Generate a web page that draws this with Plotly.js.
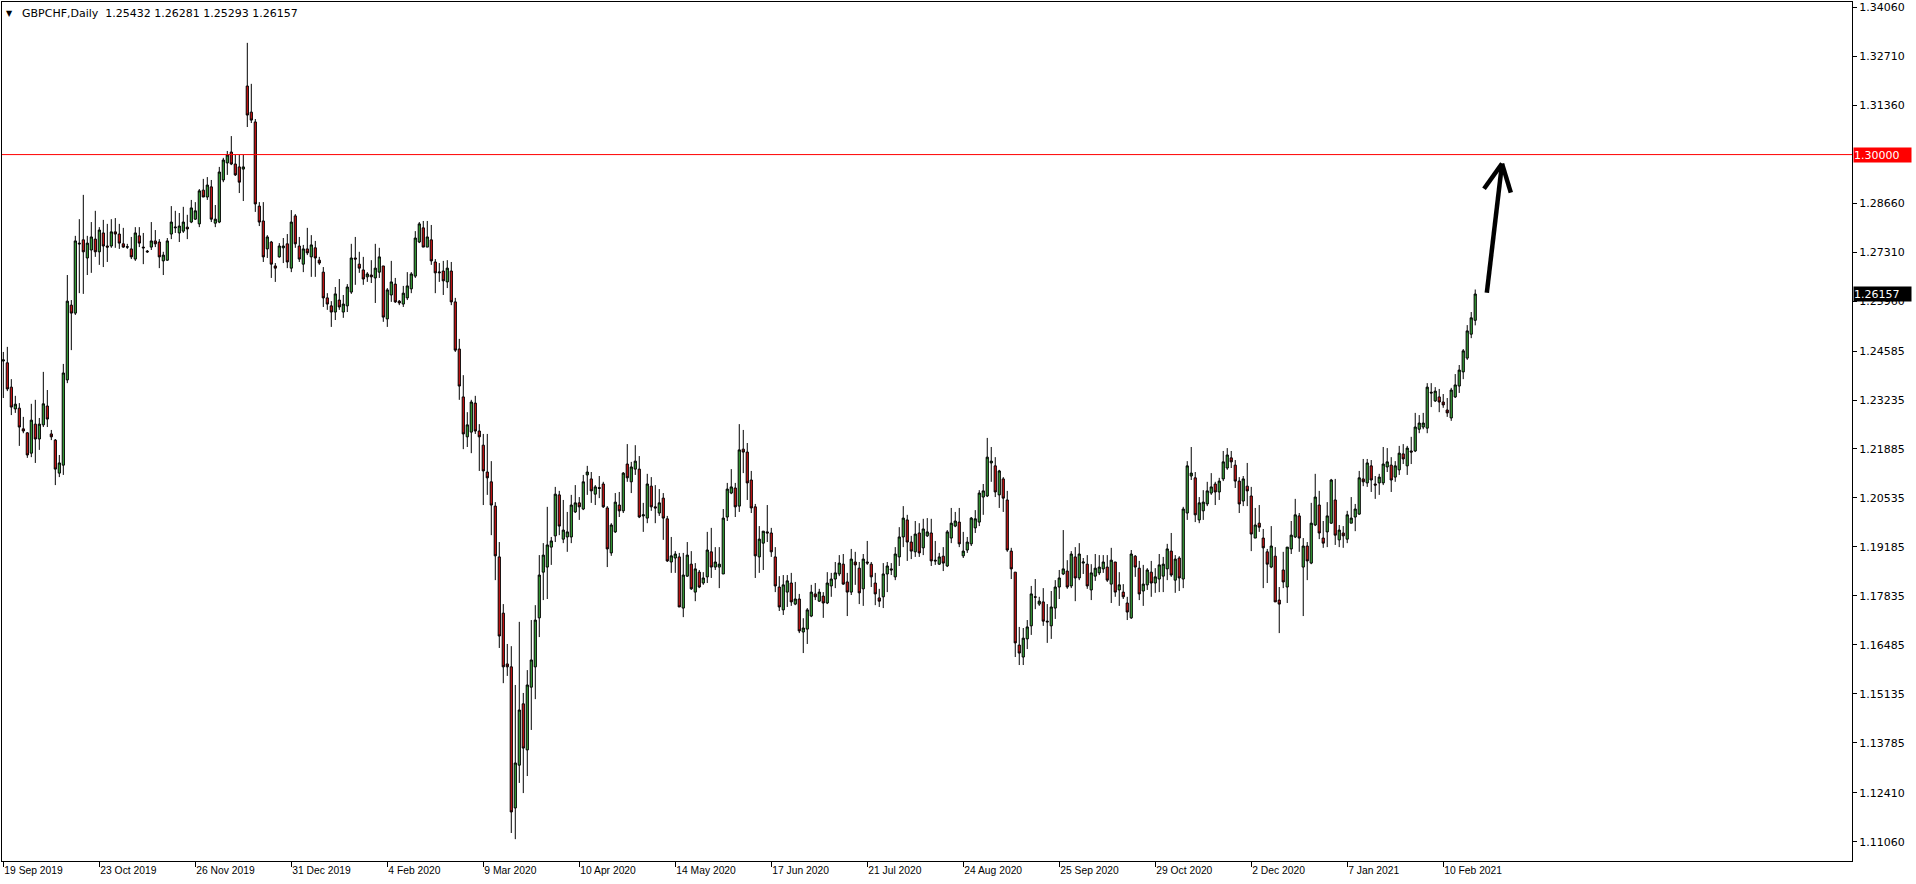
<!DOCTYPE html>
<html>
<head>
<meta charset="utf-8">
<script src="https://cdn.plot.ly/plotly-3.0.1.min.js"></script>
<style>
  html, body { margin: 0; padding: 0; background: #ffffff; }
  #chart { width: 1916px; height: 884px; }
</style>
</head>
<body>
<div id="chart"></div>
<script>
// GBPCHF Daily, 19 Sep 2019 – 22 Feb 2021 (one value per trading day)
const open = [
1.2431,1.2426,1.2359,1.2299,1.2301,1.2244,1.2233,1.2177,1.2257,1.2216,1.2255,1.2307,
1.2230,1.2213,1.2122,1.2144,1.2379,1.2585,1.2563,1.2756,1.2765,1.2715,1.2737,1.2767,
1.2732,1.2784,1.2748,1.2748,1.2787,1.2781,1.2754,1.2746,1.2740,1.2712,1.2776,1.2745,
1.2734,1.2745,1.2762,1.2759,1.2707,1.2709,1.2781,1.2798,1.2784,1.2789,1.2800,1.2814,
1.2822,1.2809,1.2902,1.2883,1.2911,1.2811,1.2814,1.2930,1.2977,1.3007,1.2974,1.2966,
1.2960,1.3189,1.3117,1.3090,1.2858,1.2817,1.2740,1.2759,1.2693,1.2718,1.2743,1.2754,
1.2687,1.2831,1.2748,1.2698,1.2740,1.2718,1.2743,1.2709,1.2676,1.2605,1.2583,1.2566,
1.2599,1.2566,1.2583,1.2621,1.2715,1.2698,1.2682,1.2663,1.2668,1.2660,1.2676,1.2693,
1.2547,1.2613,1.2643,1.2596,1.2588,1.2605,1.2630,1.2665,1.2759,1.2798,1.2745,1.2765,
1.2704,1.2674,1.2679,1.2649,1.2679,1.2594,1.2464,1.2332,1.2222,1.2235,1.2315,1.2238,
1.2199,1.2125,1.2098,1.2031,1.1891,1.1736,1.1596,1.1588,1.1199,1.1317,1.1486,1.1359,
1.1532,1.1588,1.1723,1.1849,1.1863,1.1918,1.1949,1.2062,1.1940,1.1946,1.1946,1.2015,
1.2040,1.2023,1.2117,1.2106,1.2064,1.2082,1.2092,1.2026,1.1902,1.1960,1.2034,1.2018,
1.2147,1.2098,1.2133,1.2133,1.2004,1.1998,1.2086,1.2029,1.2012,1.2053,1.1996,1.1877,
1.1888,1.1891,1.1750,1.1838,1.1871,1.1794,1.1849,1.1819,1.1836,1.1905,1.1863,1.1863,
1.1844,1.2001,1.2067,1.2081,1.2031,1.2188,1.2180,1.2103,1.2029,1.1891,1.1929,1.1960,
1.1957,1.1891,1.1808,1.1745,1.1794,1.1819,1.1761,1.1775,1.1684,1.1692,1.1728,1.1789,
1.1769,1.1783,1.1764,1.1811,1.1830,1.1844,1.1871,1.1822,1.1794,1.1877,1.1860,1.1803,
1.1877,1.1871,1.1819,1.1778,1.1781,1.1844,1.1858,1.1836,1.1891,1.1946,1.1993,1.1932,
1.1905,1.1957,1.1916,1.1949,1.1957,1.1882,1.1871,1.1893,1.1866,1.1943,1.1976,1.1987,
1.1894,1.1910,1.1927,1.1971,1.1987,1.2056,1.2059,1.2150,1.2142,1.2062,1.2106,1.2048,
1.1907,1.1849,1.1648,1.1615,1.1665,1.1701,1.1781,1.1761,1.1767,1.1714,1.1701,1.1750,
1.1808,1.1844,1.1852,1.1811,1.1891,1.1833,1.1874,1.1871,1.1800,1.1838,1.1847,1.1858,
1.1863,1.1816,1.1877,1.1800,1.1794,1.1764,1.1723,1.1893,1.1860,1.1797,1.1814,1.1849,
1.1819,1.1830,1.1838,1.1858,1.1907,1.1827,1.1888,1.1830,1.2012,1.2114,1.2109,1.1993,
1.2018,1.2037,1.2067,1.2092,1.2070,1.2106,1.2136,1.2164,1.2144,1.2100,1.2045,1.2086,
1.2059,1.1943,1.1984,1.1943,1.1905,1.1863,1.1893,1.1772,1.1855,1.1808,1.1913,1.1946,
1.2004,1.1863,1.1921,1.1874,1.1979,1.2034,1.1943,1.1960,1.1984,1.2048,1.1938,1.1957,
1.1940,1.1984,1.2001,1.2009,1.2106,1.2095,1.2142,1.2092,1.2095,1.2095,1.2139,1.2144,
1.2111,1.2131,1.2175,1.2142,1.2183,1.2183,1.2243,1.2249,1.2246,1.2345,1.2321,1.2332,
1.2318,1.2296,1.2274,1.2332,1.2362,1.2401,1.2439,1.2505,1.25432
];
const high = [
1.2456,1.2470,1.2381,1.2335,1.2315,1.2277,1.2235,1.2313,1.2324,1.2274,1.2401,1.2351,
1.2241,1.2216,1.2172,1.2423,1.2668,1.2599,1.2776,1.2822,1.2889,1.2776,1.2814,1.2845,
1.2800,1.2820,1.2809,1.2822,1.2825,1.2809,1.2798,1.2754,1.2773,1.2800,1.2800,1.2784,
1.2737,1.2814,1.2792,1.2767,1.2732,1.2770,1.2858,1.2845,1.2839,1.2856,1.2834,1.2875,
1.2869,1.2905,1.2933,1.2938,1.2930,1.2861,1.2966,1.2991,1.3010,1.3051,1.2999,1.2999,
1.2999,1.3308,1.3195,1.3098,1.2869,1.2869,1.2778,1.2762,1.2701,1.2756,1.2770,1.2781,
1.2847,1.2836,1.2773,1.2751,1.2798,1.2778,1.2762,1.2718,1.2690,1.2618,1.2596,1.2635,
1.2657,1.2613,1.2643,1.2754,1.2773,1.2732,1.2718,1.2676,1.2709,1.2754,1.2743,1.2693,
1.2632,1.2707,1.2660,1.2599,1.2638,1.2676,1.2676,1.2789,1.2814,1.2817,1.2817,1.2806,
1.2712,1.2701,1.2707,1.2709,1.2704,1.2605,1.2492,1.2392,1.2290,1.2324,1.2335,1.2257,
1.2230,1.2230,1.2155,1.2042,1.1932,1.1761,1.1651,1.1645,1.1538,1.1712,1.1516,1.1579,
1.1717,1.1758,1.1896,1.1929,1.2029,1.1946,1.2084,1.2073,1.2048,1.2015,1.2062,1.2089,
1.2056,1.2117,1.2142,1.2125,1.2089,1.2114,1.2098,1.2031,1.1984,1.2067,1.2070,1.2125,
1.2202,1.2153,1.2199,1.2169,1.2040,1.2120,1.2111,1.2089,1.2078,1.2067,1.2004,1.1946,
1.1907,1.1902,1.1902,1.1932,1.1907,1.1874,1.1855,1.1849,1.1960,1.1971,1.1918,1.1918,
1.2023,1.2095,1.2133,1.2095,1.2257,1.2241,1.2205,1.2128,1.2037,1.1976,1.1962,1.2034,
1.1971,1.1918,1.1838,1.1841,1.1841,1.1847,1.1822,1.1789,1.1722,1.1750,1.1814,1.1819,
1.1803,1.1794,1.1849,1.1847,1.1877,1.1896,1.1899,1.1847,1.1913,1.1905,1.1877,1.1899,
1.1935,1.1877,1.1847,1.1803,1.1874,1.1877,1.1874,1.1918,1.1973,1.2031,1.2007,1.1949,
1.1990,1.1984,1.1996,1.1998,1.1996,1.1935,1.1902,1.1918,1.1965,1.2026,1.2015,1.2026,
1.1960,1.1946,1.2001,1.2020,1.2075,1.2092,1.2219,1.2194,1.2166,1.2131,1.2111,1.2073,
1.1916,1.1849,1.1698,1.1695,1.1717,1.1811,1.1830,1.1781,1.1805,1.1761,1.1797,1.1827,
1.1855,1.1965,1.1882,1.1907,1.1918,1.1929,1.1888,1.1896,1.1871,1.1899,1.1896,1.1896,
1.1896,1.1916,1.1877,1.1849,1.1816,1.1781,1.1910,1.1896,1.1880,1.1869,1.1860,1.1880,
1.1860,1.1899,1.1891,1.1927,1.1957,1.1896,1.1893,1.2029,1.2155,1.2194,1.2125,1.2056,
1.2075,1.2098,1.2122,1.2098,1.2109,1.2183,1.2191,1.2183,1.2158,1.2111,1.2114,1.2150,
1.2084,1.2026,1.2034,1.1968,1.1913,1.1976,1.1918,1.1808,1.1905,1.1918,1.1990,1.2051,
1.2012,1.1943,1.1932,1.2040,1.2120,1.2073,1.1990,1.2042,1.2106,1.2106,1.1979,1.1976,
1.2018,1.2056,1.2037,1.2128,1.2161,1.2161,1.2158,1.2114,1.2120,1.2194,1.2191,1.2166,
1.2155,1.2197,1.2202,1.2197,1.2222,1.2288,1.2282,1.2288,1.2370,1.2370,1.2359,1.2354,
1.2340,1.2329,1.2357,1.2395,1.2420,1.2464,1.2530,1.2566,1.26281
];
const low = [
1.2329,1.2348,1.2282,1.2288,1.2197,1.2232,1.2164,1.2166,1.2150,1.2186,1.2249,1.2249,
1.2213,1.2089,1.2111,1.2117,1.2370,1.2461,1.2558,1.2618,1.2616,1.2668,1.2674,1.2718,
1.2696,1.2690,1.2704,1.2743,1.2743,1.2740,1.2743,1.2740,1.2712,1.2707,1.2745,1.2698,
1.2729,1.2737,1.2745,1.2687,1.2668,1.2707,1.2767,1.2784,1.2759,1.2784,1.2767,1.2811,
1.2820,1.2800,1.2883,1.2875,1.2814,1.2800,1.2811,1.2924,1.2944,1.2971,1.2941,1.2894,
1.2872,1.3076,1.3087,1.2842,1.2803,1.2704,1.2715,1.2660,1.2649,1.2716,1.2701,1.2687,
1.2676,1.2743,1.2704,1.2676,1.2723,1.2663,1.2663,1.2696,1.2580,1.2572,1.2525,1.2544,
1.2572,1.2550,1.2566,1.2616,1.2641,1.2674,1.2641,1.2649,1.2646,1.2591,1.2660,1.2539,
1.2525,1.2594,1.2591,1.2585,1.2580,1.2599,1.2618,1.2660,1.2756,1.2745,1.2745,1.2696,
1.2618,1.2649,1.2613,1.2632,1.2585,1.2456,1.2324,1.2188,1.2194,1.2177,1.2230,1.2128,
1.2034,1.2062,1.1951,1.1827,1.1640,1.1543,1.1563,1.1130,1.1113,1.1268,1.1240,1.1287,
1.1414,1.1499,1.1670,1.1772,1.1775,1.1869,1.1932,1.1951,1.1929,1.1905,1.1929,1.2012,
1.1993,1.2020,1.2062,1.2040,1.2034,1.2053,1.2026,1.1863,1.1894,1.1957,1.2001,1.2012,
1.2098,1.2067,1.2117,1.1998,1.1960,1.1984,1.2018,1.1984,1.2004,1.1938,1.1877,1.1847,
1.1847,1.1753,1.1725,1.1836,1.1800,1.1769,1.1805,1.1814,1.1819,1.1833,1.1855,1.1805,
1.1844,1.1990,1.2064,1.2001,1.2015,1.2122,1.2048,1.2012,1.1833,1.1847,1.1855,1.1932,
1.1891,1.1794,1.1742,1.1731,1.1753,1.1756,1.1758,1.1681,1.1626,1.1651,1.1725,1.1772,
1.1767,1.1723,1.1761,1.1781,1.1805,1.1838,1.1814,1.1728,1.1786,1.1814,1.1761,1.1756,
1.1869,1.1808,1.1758,1.1753,1.1750,1.1794,1.1841,1.1827,1.1866,1.1918,1.1880,1.1885,
1.1891,1.1891,1.1896,1.1946,1.1866,1.1869,1.1869,1.1852,1.1863,1.1929,1.1973,1.1918,
1.1888,1.1902,1.1921,1.1957,1.1976,1.2007,1.2056,1.2098,1.2056,1.2026,1.2015,1.1905,
1.1830,1.1615,1.1593,1.1593,1.1637,1.1676,1.1747,1.1756,1.1701,1.1654,1.1665,1.1720,
1.1775,1.1841,1.1803,1.1805,1.1769,1.1827,1.1844,1.1803,1.1772,1.1825,1.1841,1.1847,
1.1822,1.1764,1.1781,1.1756,1.1775,1.1717,1.1720,1.1836,1.1772,1.1756,1.1800,1.1781,
1.1792,1.1794,1.1794,1.1827,1.1836,1.1792,1.1797,1.1805,1.1993,1.2103,1.1987,1.1984,
1.1993,1.2031,1.2062,1.2034,1.2048,1.2100,1.2131,1.2136,1.2081,1.2012,1.2031,1.2031,
1.1907,1.1943,1.1960,1.1805,1.1819,1.1860,1.1767,1.1681,1.1805,1.1764,1.1899,1.1943,
1.1905,1.1728,1.1827,1.1871,1.1976,1.1940,1.1916,1.1918,1.1982,1.1924,1.1918,1.1916,
1.1929,1.1984,1.1962,1.2007,1.2086,1.2084,1.2070,1.2051,1.2062,1.2089,1.2125,1.2070,
1.2098,1.2117,1.2147,1.2117,1.2147,1.2180,1.2232,1.2243,1.2232,1.2304,1.2318,1.2290,
1.2302,1.2277,1.2266,1.2329,1.2343,1.2381,1.2434,1.2494,1.25293
];
const close = [
1.2434,1.2354,1.2304,1.2312,1.2249,1.2238,1.2172,1.2268,1.2216,1.2257,1.2313,1.2271,
1.2222,1.2133,1.2150,1.2398,1.2596,1.2563,1.2762,1.2754,1.2732,1.2756,1.2773,1.2732,
1.2792,1.2748,1.2745,1.2787,1.2781,1.2756,1.2745,1.2745,1.2718,1.2784,1.2756,1.2743,
1.2732,1.2762,1.2754,1.2718,1.2723,1.2762,1.2814,1.2800,1.2803,1.2814,1.2795,1.2853,
1.2845,1.2900,1.2883,1.2916,1.2822,1.2822,1.2952,1.2985,1.2999,1.2974,1.2944,1.2924,
1.2966,1.3109,1.3095,1.2864,1.2814,1.2718,1.2773,1.2698,1.2687,1.2748,1.2748,1.2704,
1.2814,1.2754,1.2712,1.2740,1.2729,1.2751,1.2715,1.2701,1.2605,1.2588,1.2566,1.2616,
1.2580,1.2588,1.2635,1.2715,1.2712,1.2687,1.2657,1.2671,1.2663,1.2687,1.2718,1.2552,
1.2627,1.2649,1.2594,1.2591,1.2618,1.2638,1.2671,1.2770,1.2809,1.2745,1.2773,1.2707,
1.2674,1.2676,1.2652,1.2687,1.2594,1.2461,1.2362,1.2230,1.2255,1.2318,1.2238,1.2222,
1.2128,1.2109,1.2034,1.1894,1.1673,1.1588,1.1588,1.1188,1.1323,1.1469,1.1364,1.1538,
1.1607,1.1717,1.1841,1.1896,1.1924,1.1935,1.2064,1.1976,1.1965,1.1960,1.2034,1.2040,
1.2029,1.2098,1.2125,1.2073,1.2084,1.2080,1.2029,1.1913,1.1979,1.2042,1.2018,1.2122,
1.2109,1.2139,1.2155,1.2001,1.2007,1.2092,1.2029,1.2026,1.2040,1.1998,1.1880,1.1894,
1.1899,1.1753,1.1841,1.1896,1.1803,1.1858,1.1808,1.1833,1.1910,1.1863,1.1877,1.1871,
1.1998,1.2078,1.2084,1.2029,1.2186,1.2180,1.2095,1.2026,1.1894,1.1940,1.1962,1.1957,
1.1905,1.1811,1.1753,1.1814,1.1825,1.1767,1.1775,1.1687,1.1695,1.1745,1.1794,1.1781,
1.1794,1.1764,1.1819,1.1830,1.1847,1.1874,1.1816,1.1794,1.1885,1.1869,1.1792,1.1885,
1.1874,1.1836,1.1789,1.1769,1.1844,1.1866,1.1855,1.1899,1.1946,1.1998,1.1932,1.1907,
1.1954,1.1902,1.1968,1.1960,1.1880,1.1880,1.1891,1.1874,1.1960,1.1984,1.1990,1.1927,
1.1907,1.1932,1.1998,1.1996,1.2067,1.2073,1.2166,1.2155,1.2070,1.2128,1.2053,1.1910,
1.1858,1.1654,1.1626,1.1667,1.1698,1.1789,1.1780,1.1769,1.1714,1.1712,1.1753,1.1808,
1.1833,1.1858,1.1808,1.1899,1.1833,1.1899,1.1877,1.1811,1.1847,1.1860,1.1863,1.1877,
1.1827,1.1882,1.1794,1.1814,1.1781,1.1739,1.1899,1.1863,1.1789,1.1816,1.1855,1.1819,
1.1836,1.1869,1.1871,1.1913,1.1841,1.1885,1.1833,1.2023,1.2142,1.2122,1.2007,1.2040,
1.2042,1.2073,1.2084,1.2070,1.2100,1.2153,1.2172,1.2153,1.2100,1.2037,1.2106,1.2073,
1.1954,1.1979,1.1973,1.1916,1.1871,1.1921,1.1767,1.1761,1.1822,1.1918,1.1951,1.2007,
1.1943,1.1921,1.1880,1.1984,1.2056,1.1957,1.1929,1.2004,1.2103,1.1951,1.1965,1.1949,
1.2007,1.1998,1.2023,1.2109,1.2098,1.2150,1.2103,1.2089,1.2111,1.2147,1.2153,1.2103,
1.2142,1.2177,1.2161,1.2191,1.2180,1.2249,1.2260,1.2260,1.2359,1.2343,1.2348,1.2318,
1.2310,1.2288,1.2351,1.2365,1.2406,1.2459,1.2514,1.2550,1.26157
];

// x-axis date labels (one every 24 trading days)
const dateTickBars = [0, 24, 48, 72, 96, 120, 144, 168, 192, 216, 240, 264, 288, 312, 336, 360];
const dateTickLabels = ["19 Sep 2019","23 Oct 2019","26 Nov 2019","31 Dec 2019","4 Feb 2020","9 Mar 2020",
  "10 Apr 2020","14 May 2020","17 Jun 2020","21 Jul 2020","24 Aug 2020","25 Sep 2020",
  "29 Oct 2020","2 Dec 2020","7 Jan 2021","10 Feb 2021"];

// right price-axis labels
const priceTicks = [1.34060,1.32710,1.31360,1.28660,1.27310,1.25960,1.24585,1.23235,1.21885,
  1.20535,1.19185,1.17835,1.16485,1.15135,1.13785,1.12410,1.11060];
const priceTickLabels = ["1.34060","1.32710","1.31360","1.28660","1.27310","1.25960","1.24585","1.23235","1.21885",
  "1.20535","1.19185","1.17835","1.16485","1.15135","1.13785","1.12410","1.11060"];

const symbol = "GBPCHF,Daily";
const levelLine = 1.30000;
const lastIdx = close.length - 1;

const barIndex = close.map((_, i) => i);

const GREEN = "#3aa83a";
const RED = "#d41515";

const trace = {
  type: "candlestick",
  x: barIndex,
  open: open, high: high, low: low, close: close,
  increasing: { fillcolor: GREEN, line: { color: "#000000", width: 1 } },
  decreasing: { fillcolor: RED, line: { color: "#000000", width: 1 } },
  whiskerwidth: 0,
  hoverinfo: "skip",
  showlegend: false
};

const fmt = v => v.toFixed(5);

const layout = {
  width: 1916, height: 884,
  margin: { l: 2, r: 64, t: 2, b: 23, pad: 0 },
  paper_bgcolor: "#ffffff",
  plot_bgcolor: "#ffffff",
  showlegend: false,
  boxgap: 0.22,
  font: { family: "DejaVu Sans", size: 11, color: "#000000" },
  xaxis: {
    range: [-0.33, 462.2],
    rangeslider: { visible: false },
    showgrid: false, zeroline: false,
    showline: true, linecolor: "#000000", linewidth: 1, mirror: true,
    ticks: "outside", ticklen: 5, tickcolor: "#000000", tickwidth: 1,
    tickvals: dateTickBars, ticktext: dateTickLabels,
    ticklabelposition: "outside right",
    tickfont: { family: "Liberation Sans", size: 10.3, color: "#000000" },
    fixedrange: true
  },
  yaxis: {
    side: "right",
    range: [1.10528, 1.34206],
    showgrid: false, zeroline: false,
    showline: true, linecolor: "#000000", linewidth: 1, mirror: true,
    ticks: "outside", ticklen: 4, tickcolor: "#000000", tickwidth: 1,
    tickvals: priceTicks, ticktext: priceTickLabels,
    tickfont: { family: "DejaVu Sans", size: 11, color: "#000000" },
    fixedrange: true
  },
  shapes: [
    { type: "line", xref: "paper", yref: "y", x0: 0, x1: 1, y0: levelLine, y1: levelLine,
      line: { color: "#ff0000", width: 1 } },
    // hand-drawn arrow (shaft + head), in bar / price coordinates
    { type: "line", xref: "x", yref: "y", x0: 370.9, y0: 1.2619, x1: 374.7, y1: 1.2975,
      line: { color: "#000000", width: 4.5 } },
    { type: "line", xref: "x", yref: "y", x0: 370.2, y0: 1.2906, x1: 374.7, y1: 1.2975,
      line: { color: "#000000", width: 4.5 } },
    { type: "line", xref: "x", yref: "y", x0: 376.9, y0: 1.2895, x1: 374.7, y1: 1.2975,
      line: { color: "#000000", width: 4.5 } }
  ],
  annotations: [
    { xref: "paper", yref: "paper", x: 0, y: 1, xanchor: "left", yanchor: "top",
      xshift: 2, yshift: -5, text: "\u25BC", showarrow: false,
      font: { family: "DejaVu Sans", size: 8, color: "#000000" } },
    { xref: "paper", yref: "paper", x: 0, y: 1, xanchor: "left", yanchor: "top",
      xshift: 18, yshift: -3,
      text: symbol + "\u00a0\u00a0" + [open[lastIdx], high[lastIdx], low[lastIdx], close[lastIdx]].map(fmt).join(" "),
      showarrow: false, font: { family: "DejaVu Sans", size: 11, color: "#000000" } },
    { xref: "paper", yref: "y", x: 1, y: levelLine, xanchor: "left", yanchor: "middle",
      xshift: 1, text: fmt(levelLine), showarrow: false, bgcolor: "#ff0000",
      width: 57, height: 14, align: "left", borderpad: 0,
      font: { family: "DejaVu Sans", size: 11, color: "#ffffff" } },
    { xref: "paper", yref: "y", x: 1, y: close[lastIdx], xanchor: "left", yanchor: "middle",
      xshift: 1, text: fmt(close[lastIdx]), showarrow: false, bgcolor: "#000000",
      width: 57, height: 14, align: "left", borderpad: 0,
      font: { family: "DejaVu Sans", size: 11, color: "#ffffff" } }
  ]
};

Plotly.newPlot("chart", [trace], layout, { displayModeBar: false, staticPlot: true });
</script>
</body>
</html>
